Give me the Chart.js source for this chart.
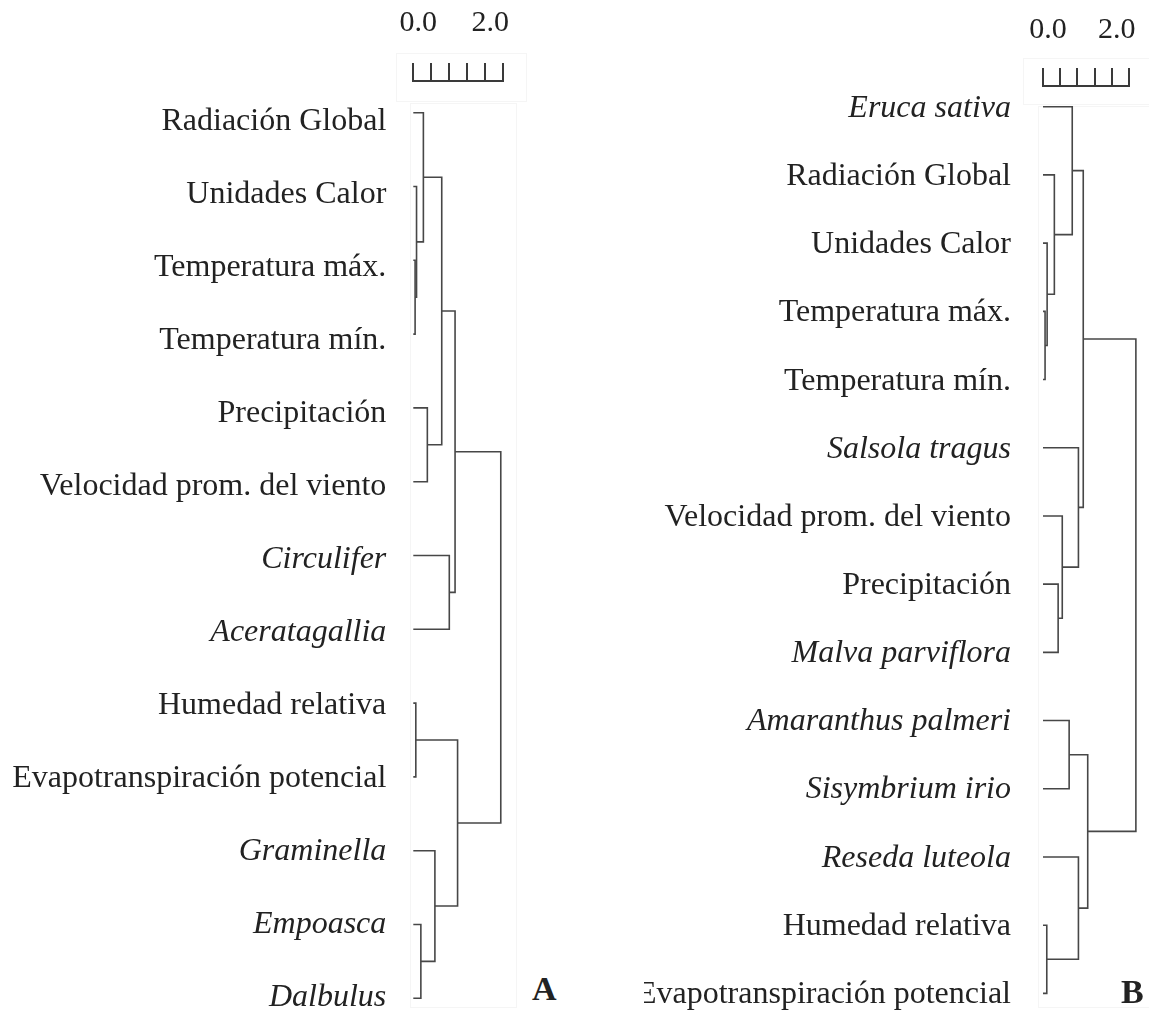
<!DOCTYPE html>
<html>
<head>
<meta charset="utf-8">
<script src="https://cdn.jsdelivr.net/npm/chart.js@4.4.1/dist/chart.umd.min.js"></script>
<style>
  html, body { margin: 0; padding: 0; background: #ffffff; }
  body { width: 1149px; height: 1010px; position: relative; overflow: hidden; }
  .panel { position: absolute; top: 0; height: 1010px; }
  .frame { position: absolute; border: 1px solid #f5f5f5; box-sizing: border-box; }
  .tag { position: absolute; font: bold 34px/1 "Liberation Serif", "DejaVu Serif", serif; color: #222; }
</style>
</head>
<body>
<!-- light frames of the figure boxes -->
<div class="frame" style="left:396px;top:53px;width:131px;height:49px"></div>
<div class="frame" style="left:410px;top:103px;width:107px;height:905px"></div>
<div class="frame" style="left:1023px;top:58px;width:140px;height:47px"></div>
<div class="frame" style="left:1038px;top:106px;width:130px;height:902px"></div>

<div class="panel" style="left:0px;width:530px"><canvas id="dendroA"></canvas></div>
<div class="panel" style="left:644px;width:505px"><canvas id="dendroB"></canvas></div>

<div class="tag" style="left:532px;top:972px">A</div>
<div class="tag" style="left:1121px;top:975px">B</div>

<script>
// ---- Panel A: insects and climate variables ----
const leavesA = [
  "Radiación Global", "Unidades Calor", "Temperatura máx.", "Temperatura mín.",
  "Precipitación", "Velocidad prom. del viento", "Circulifer", "Aceratagallia",
  "Humedad relativa", "Evapotranspiración potencial", "Graminella", "Empoasca", "Dalbulus"
];
const italicA = ["Circulifer", "Aceratagallia", "Graminella", "Empoasca", "Dalbulus"];
// [child, child, height]; ids >= leaves.length refer to earlier merges
const mergesA = [
  [2, 3, 0.05],
  [1, 13, 0.09],
  [0, 14, 0.28],
  [4, 5, 0.39],
  [15, 16, 0.79],
  [6, 7, 1.00],
  [17, 18, 1.16],
  [8, 9, 0.07],
  [11, 12, 0.21],
  [10, 21, 0.60],
  [20, 22, 1.23],
  [19, 23, 2.43]
];

// ---- Panel B: weeds and climate variables ----
const leavesB = [
  "Eruca sativa", "Radiación Global", "Unidades Calor", "Temperatura máx.",
  "Temperatura mín.", "Salsola tragus", "Velocidad prom. del viento", "Precipitación",
  "Malva parviflora", "Amaranthus palmeri", "Sisymbrium irio", "Reseda luteola",
  "Humedad relativa", "Evapotranspiración potencial"
];
const italicB = ["Eruca sativa", "Salsola tragus", "Malva parviflora",
  "Amaranthus palmeri", "Sisymbrium irio", "Reseda luteola"];
const mergesB = [
  [3, 4, 0.06],
  [2, 14, 0.12],
  [1, 15, 0.33],
  [0, 16, 0.85],
  [7, 8, 0.44],
  [6, 18, 0.56],
  [5, 19, 1.03],
  [17, 20, 1.17],
  [9, 10, 0.76],
  [12, 13, 0.11],
  [11, 23, 1.03],
  [22, 24, 1.30],
  [21, 25, 2.70]
];

// distance scale bar
const scaleTicks = [0, 0.5, 1, 1.5, 2, 2.5];
const scaleLabels = { 0: "0.0", 2: "2.0" };

const SERIF = '"Liberation Serif", "DejaVu Serif", serif';
const INK = "#222222";
const LINE = "#474747";
const CANVAS_H = 1010;

// Turns the merge table into U-shaped links: child A -> merge height -> child B
function linkPaths(leaves, merges) {
  const nodes = leaves.map((_, i) => ({ y: i, h: 0 }));
  return merges.map(([a, b, h]) => {
    const na = nodes[a], nb = nodes[b];
    nodes.push({ y: (na.y + nb.y) / 2, h: h });
    return [
      { x: na.h, y: na.y }, { x: h, y: na.y },
      { x: h, y: nb.y }, { x: nb.h, y: nb.y }
    ];
  });
}

function drawDendrogram(id, leaves, italics, merges, box) {
  const italicSet = new Set(italics);
  const n = leaves.length - 1;

  // label axis range: first and last name sit at box.labelFirst / box.labelLast
  const areaTop = box.top, areaBottom = CANVAS_H - box.bottom;
  const f0 = (box.labelFirst - areaTop) / (areaBottom - areaTop);
  const f1 = (box.labelLast - areaTop) / (areaBottom - areaTop);
  const span = n / (f1 - f0);
  const labelMin = -f0 * span;

  const datasets = linkPaths(leaves, merges).map(path => ({
    data: path,
    yAxisID: "y",
    showLine: true,
    borderColor: LINE,
    borderWidth: 1.6,
    pointRadius: 0,
    pointHoverRadius: 0,
    fill: false,
    tension: 0,
    clip: false,
    borderJoinStyle: "miter",
    borderCapStyle: "butt"
  }));

  return new Chart(document.getElementById(id), {
    type: "scatter",
    data: { datasets },
    options: {
      responsive: true,
      maintainAspectRatio: false,
      animation: false,
      events: [],
      layout: { padding: { top: 0, left: 0, right: box.right, bottom: box.bottom } },
      plugins: { legend: { display: false }, tooltip: { enabled: false }, title: { display: false } },
      scales: {
        x: {
          type: "linear",
          position: "top",
          min: 0,
          max: 2.5,
          afterBuildTicks: s => { s.ticks = scaleTicks.map(v => ({ value: v })); },
          afterFit: s => { s.height = box.top; s.paddingLeft = 0; s.paddingRight = 0; },
          ticks: {
            autoSkip: false,
            maxRotation: 0,
            padding: box.tickPad,
            labelOffset: 5,
            color: INK,
            font: { family: SERIF, size: 30 },
            callback: v => scaleLabels[v] ?? ""
          },
          grid: {
            display: true,
            drawOnChartArea: false,
            drawTicks: true,
            tickLength: 18,
            color: "#3a3a3a",
            lineWidth: 2
          },
          border: { display: true, color: "#3a3a3a", width: 2 }
        },
        // leaf positions of the tree
        y: {
          type: "linear",
          display: false,
          reverse: true,
          min: box.yMin,
          max: box.yMax
        },
        // names of the leaves
        names: {
          type: "linear",
          position: "left",
          reverse: true,
          min: labelMin,
          max: labelMin + span,
          afterBuildTicks: s => { s.ticks = leaves.map((_, i) => ({ value: i })); },
          afterFit: s => { s.width = box.axisWidth; s.paddingTop = 0; s.paddingBottom = 0; },
          ticks: {
            autoSkip: false,
            padding: box.labelPad,
            color: INK,
            font: ctx => ({
              family: SERIF,
              size: 32,
              style: italicSet.has(leaves[ctx.index]) ? "italic" : "normal"
            }),
            callback: v => leaves[v]
          },
          grid: { display: false, drawTicks: false },
          border: { display: false }
        }
      }
    }
  });
}

drawDendrogram("dendroA", leavesA, italicA, mergesA, {
  axisWidth: 413.3, labelPad: 27,
  top: 81, tickPad: 22, right: 26.7, bottom: 5,
  yMin: -0.4295, yMax: 12.091,
  labelFirst: 122, labelLast: 998
});

drawDendrogram("dendroB", leavesB, italicB, mergesB, {
  axisWidth: 399, labelPad: 32,
  top: 86, tickPad: 20, right: 20, bottom: 5,
  yMin: -0.3035, yMax: 13.17,
  labelFirst: 108.5, labelLast: 994.5
});
</script>
</body>
</html>
